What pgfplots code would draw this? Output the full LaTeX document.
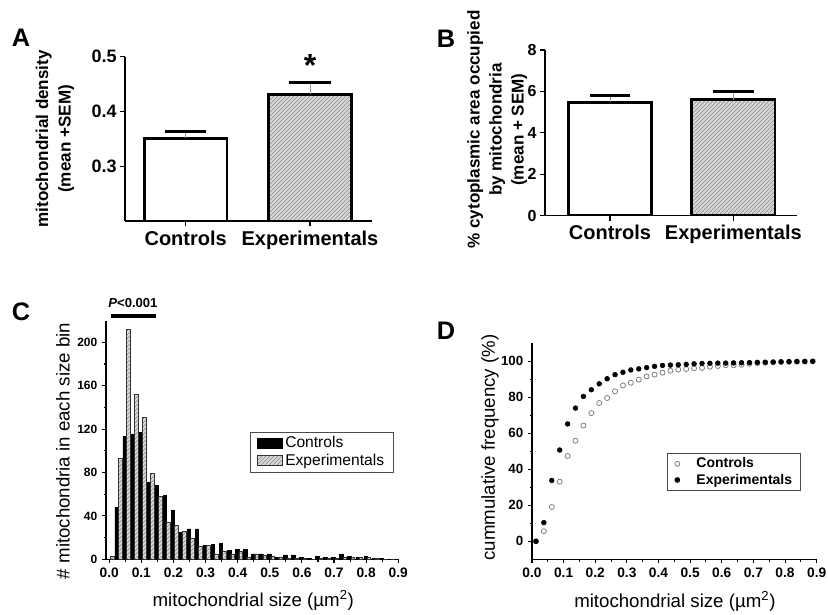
\documentclass[border=0pt]{standalone}
\usepackage{pgfplots}
\pgfplotsset{compat=1.18}
\usepackage{pgfplotstable}
\usepackage{fontspec}
\setmainfont{Liberation Sans}
\usetikzlibrary{patterns}

\pgfplotstableread{
x c e
0.0035 0 3
0.0285 48 93
0.0535 113 212
0.0785 115 152
0.1035 117 131
0.1285 71 79
0.1535 68 58
0.1785 59 34
0.2035 45 31
0.2285 25 26
0.2535 28 19
0.2785 28 12
0.3035 13 13
0.3285 14 5
0.3535 15 7
0.3785 8 5
0.4035 9 7
0.4285 9 2
0.4535 5 5
0.4785 5 4
0.5035 5 3
0.5285 2 2
0.5535 4 1
0.5785 4 1
0.6035 2 1
0.6285 1 0
0.6535 3 1
0.6785 2 1
0.7035 2 1
0.7285 5 2
0.7535 3 2
0.7785 2 2
0.8035 3 2
0.8285 1 1
0.8535 1 0
0.8785 0 0
}\histdata

\pgfplotstableread{
x c e
0.0125 0 0
0.0375 5.6 10.4
0.0625 19.1 33.8
0.0875 33.1 50.7
0.1125 47.4 65.2
0.1375 55.9 74
0.1625 64.3 80.5
0.1875 71.2 84.2
0.2125 76.8 87.5
0.2375 79.6 90.3
0.2625 83.3 92.6
0.2875 86.6 93.9
0.3125 88.1 95.2
0.3375 89.8 95.8
0.3625 91.6 96.5
0.3875 92.6 97.2
0.4125 93.7 97.7
0.4375 94.8 97.9
0.4625 95.4 98.1
0.4875 95.7 98.3
0.5125 96.1 98.6
0.5375 96.3 98.8
0.5625 97.0 98.9
0.5875 97.4 99.0
0.6125 97.8 99.0
0.6375 97.8 99.1
0.6625 98.1 99.2
0.6875 98.7 99.3
0.7125 99.0 99.4
0.7375 99.2 99.5
0.7625 99.4 99.6
0.7875 99.6 99.7
0.8125 99.7 99.8
0.8375 99.8 99.9
0.8625 99.9 99.9
0.8875 100 100
}\cumdata

\pgfplotsset{
  barax/.style={scale only axis, axis lines=left, axis line style={-, line width=1pt},
    tick style={line width=1pt, black}, tick align=outside, major tick length=3.75pt,
    /pgf/number format/assume math mode=true, yticklabel shift=-1pt,
    yticklabel style={font=\bfseries\fontsize{13.5}{15}\selectfont},
    xticklabel style={font=\bfseries\fontsize{15}{18}\selectfont},
    ylabel style={font=\bfseries\fontsize{12.8}{17}\selectfont, align=center, anchor=center},
    xtick={0,1}, xticklabels={Controls,Experimentals}},
  histax/.style={scale only axis, axis lines=left, axis line style={-, line width=0.8pt},
    tick style={line width=0.8pt, black}, tick align=outside, major tick length=3pt, minor tick length=1.8pt,
    /pgf/number format/assume math mode=true,
    xticklabel style={font=\bfseries\fontsize{10.3}{12}\selectfont, /pgf/number format/.cd, fixed, fixed zerofill, precision=1},
    xtick={0,0.1,...,0.9}, minor x tick num=1, minor y tick num=1,
    xlabel style={font=\fontsize{14}{16}\selectfont, anchor=center},
    ylabel style={font=\fontsize{14}{16}\selectfont, anchor=center}},
  expfill/.style={fill=black!15, postaction={pattern=north east lines, pattern color=black!45}},
}

\begin{document}
\begin{tikzpicture}
\path[use as bounding box] (0,0) rectangle (621pt,460.5pt);
\coordinate (pA) at (93.75pt,294.75pt);
\coordinate (pB) at (408.75pt,298.725pt);
\coordinate (pC) at (79.5pt,41.025pt);
\coordinate (pD) at (399pt,41.025pt);

% Panel A
\begin{axis}[barax, at={(pA)}, anchor=south west, width=185pt, height=123.2pt,
  xmin=-0.488, xmax=1.496, ymin=0.2, ymax=0.5, ytick={0.3,0.4,0.5},
  yticklabel style={/pgf/number format/.cd, fixed, fixed zerofill, precision=1},
  ylabel={mitochondrial density\\(mean +SEM)},
  ylabel style={at={(axis description cs:-0.284,0.5)}}]
\addplot[ybar, bar width=0.665, fill=white, draw=black, line width=2.2pt] coordinates {(0,0.351)};
\addplot[ybar, bar width=0.665, expfill, draw=black, line width=2.2pt] coordinates {(1,0.4316)};
\addplot[black!40, line width=0.6pt] coordinates {(0,0.351) (0,0.363)};
\addplot[black!40, line width=0.6pt] coordinates {(1,0.4316) (1,0.4535)};
\addplot[only marks, mark=-, mark size=15.4pt, mark options={line width=2.2pt, black}] coordinates {(0,0.363) (1,0.4535)};
\end{axis}
\node[font=\bfseries\fontsize{24}{26}\selectfont, anchor=base] at (232.5pt,403.1pt) {*};

% Panel B
\begin{axis}[barax, at={(pB)}, anchor=south west, width=188.8pt, height=124.3pt,
  xmin=-0.527, xmax=1.514, ymin=0, ymax=8, ytick={0,2,4,6,8},
  yticklabel style={font=\bfseries\fontsize{12}{14}\selectfont},
  ylabel={\% cytoplasmic area occupied\\by mitochondria\\(mean + SEM)},
  ylabel style={at={(axis description cs:-0.19,0.52)}, font=\bfseries\fontsize{12.8}{16.5}\selectfont}]
\addplot[ybar, bar width=0.675, fill=white, draw=black, line width=2.2pt] coordinates {(0,5.48)};
\addplot[ybar, bar width=0.675, expfill, draw=black, line width=2.2pt] coordinates {(1,5.60)};
\addplot[black!40, line width=0.6pt] coordinates {(0,5.48) (0,5.78)};
\addplot[black!40, line width=0.6pt] coordinates {(1,5.60) (1,5.99)};
\addplot[only marks, mark=-, mark size=15.3pt, mark options={line width=2.2pt, black}] coordinates {(0,5.78) (1,5.99)};
\end{axis}

% Panel C
\begin{axis}[histax, at={(pC)}, anchor=south west, width=219.2pt, height=179pt,
  xmin=-0.01, xmax=0.9, ymin=0, ymax=220, ytick={0,40,...,200}, clip=false,
  yticklabel style={font=\bfseries\fontsize{9}{10}\selectfont},
  xlabel={mitochondrial size (\textmu m\textsuperscript{2})},
  xlabel style={at={(axis description cs:0.504,-0.174)}},
  ylabel={\# mitochondria in each size bin},
  ylabel style={at={(axis description cs:-0.147,0.454)}},
  legend image code/.code={\draw[#1,/tikz/.cd,yshift=-3.75pt] (0pt,0pt) rectangle (18.75pt,7.5pt);},
  legend style={at={(0.4927,0.535)}, anchor=north west, draw=black!70, line width=0.6pt,
    font=\fontsize{11.7}{13}\selectfont, inner xsep=5pt, inner ysep=1.5pt, row sep=-1pt},
  legend cell align=left]
\addplot[ybar, bar width=0.0108, bar shift=-0.0054, fill=black, draw=black, line width=0.4pt] table[x=x, y=c] {\histdata};
\addlegendentry{Controls}
\addplot[ybar, bar width=0.0108, bar shift=0.0054, expfill, draw=black!80, line width=0.4pt] table[x=x, y=e] {\histdata};
\addlegendentry{Experimentals}
\addplot[black, line width=3.3pt, forget plot] coordinates {(0.005,224) (0.145,224)};
\node[font=\bfseries\fontsize{9.8}{12}\selectfont] at (axis cs:0.074,236.5) {\textit{P}<0.001};
\end{axis}

% Panel D
\begin{axis}[histax, at={(pD)}, anchor=south west, width=213.5pt, height=162pt,
  xmin=0, xmax=0.9, ymin=-10, ymax=110, ytick={0,20,...,100},
  yticklabel style={font=\bfseries\fontsize{10}{12}\selectfont},
  xlabel={mitochondrial size (\textmu m\textsuperscript{2})},
  xlabel style={at={(axis description cs:0.502,-0.193)}},
  ylabel={cummulative frequency (\%)},
  ylabel style={at={(axis description cs:-0.1475,0.517)}},
  legend image code/.code={\path (0pt,0pt) (15pt,0pt); \draw[#1] plot coordinates {(3pt,0pt)};},
  legend style={at={(0.475,0.4935)}, anchor=north west, draw=black!70, line width=0.6pt,
    font=\bfseries\fontsize{10.5}{12}\selectfont, inner xsep=4pt, inner ysep=1.5pt, row sep=-1pt},
  legend cell align=left]
\addplot[only marks, mark=o, mark size=1.9pt, mark options={draw=black!50, line width=0.6pt}] table[x=x, y=c] {\cumdata};
\addlegendentry{Controls}
\addplot[only marks, mark=*, mark size=1.8pt, black] table[x=x, y=e] {\cumdata};
\addlegendentry{Experimentals}
\end{axis}

% Panel letters
\node[font=\bfseries\fontsize{19}{22}\selectfont] at (15.75pt,432.4pt) {A};
\node[font=\bfseries\fontsize{19}{22}\selectfont] at (334.5pt,431.6pt) {B};
\node[font=\bfseries\fontsize{19}{22}\selectfont] at (15.75pt,226.5pt) {C};
\node[font=\bfseries\fontsize{19}{22}\selectfont] at (334.5pt,212.25pt) {D};
\end{tikzpicture}
\end{document}
